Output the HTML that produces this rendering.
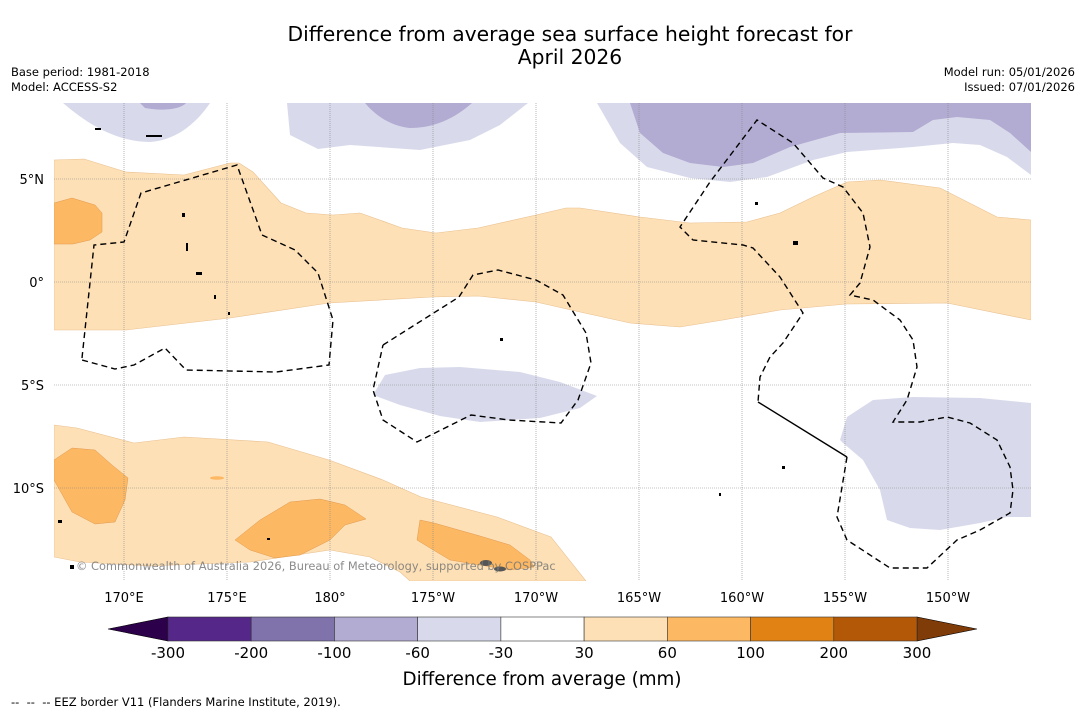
<!DOCTYPE html>
<html><head><meta charset="utf-8">
<style>
body{margin:0;background:#fff;width:1085px;height:713px;overflow:hidden;font-family:"Liberation Sans","DejaVu Sans",sans-serif;}
svg{position:absolute;left:0;top:0}
text{font-family:"DejaVu Sans","Liberation Sans",sans-serif;}
</style></head><body>
<svg id="chart" width="1085" height="713" viewBox="0 0 1085 713">
<text x="570" y="41" font-size="20.3" text-anchor="middle" fill="#000">Difference from average sea surface height forecast for</text>
<text x="570" y="64" font-size="20.3" text-anchor="middle" fill="#000">April 2026</text>
<text x="11" y="76" font-size="11.5">Base period: 1981-2018</text>
<text x="11" y="91" font-size="11.5">Model: ACCESS-S2</text>
<text x="1075" y="76" font-size="11.5" text-anchor="end">Model run: 05/01/2026</text>
<text x="1075" y="91" font-size="11.5" text-anchor="end">Issued: 07/01/2026</text>
<defs><clipPath id="mapclip"><rect x="54" y="103" width="977" height="478"/></clipPath></defs>
<g id="map" clip-path="url(#mapclip)">
<rect x="54" y="103" width="977" height="478" fill="#fff"/>
<path fill="#d8daeb" d="M63,103 C85,122 115,142 150,142 C180,140 200,118 210,103 Z"/>
<path fill="#b2abd2" d="M140,103 L186,103 C180,110 160,111 145,108 Z"/>
<path fill="#d8daeb" d="M287,103 L290,135 L318,149 L350,145 L420,150 L470,140 L500,125 L528,103 Z"/>
<path fill="#b2abd2" d="M365,103 L472,103 C455,118 435,128 410,128 C390,126 375,115 365,103 Z"/>
<path fill="#d8daeb" d="M597,103 L620,143 L647,167 L690,178 L730,182 L767,177 L813,160 L847,152 L913,147 L953,143 L980,145 L1007,157 L1031,175 L1031,103 Z"/>
<path fill="#b2abd2" d="M630,103 L640,133 L663,153 L690,163 L723,167 L753,163 L790,147 L840,133 L913,132 L933,120 L957,117 L990,120 L1010,133 L1031,152 L1031,103 Z"/>
<path fill="#d8daeb" d="M373,395 L385,375 L420,368 L460,367 L520,372 L560,382 L597,396 L580,408 L540,418 L480,422 L440,416 L400,405 Z"/>
<path fill="#d8daeb" d="M840,440 L847,417 L873,400 L913,397 L980,398 L1031,403 L1031,517 L1007,517 L980,523 L940,530 L910,528 L887,520 L880,490 L863,460 L843,443 Z"/>
<path fill="#fee0b6" stroke="#e8c090" stroke-width="0.6" d="M54,160 L84,159 L126,172 L184,175 L230,163 L239,163 L253,172 L281,203 L306,213 L333,215 L360,213 L402,228 L436,233 L478,228 L536,215 L566,208 L580,208 L640,217 L690,223 L747,222 L780,213 L813,197 L847,182 L880,180 L940,188 L997,217 L1031,220 L1031,320 L947,303 L847,304 L780,310 L723,320 L680,327 L630,323 L580,312 L536,302 L478,296 L432,297 L329,303 L230,318 L126,330 L54,330 Z"/>
<path fill="#fdb863" stroke="#e09a50" stroke-width="0.5" d="M54,203 L72,198 L95,205 L102,213 L102,232 L90,240 L73,244 L54,244 Z"/>
<path fill="#fee0b6" stroke="#e8c090" stroke-width="0.6" d="M54,425 L77,428 L134,443 L184,437 L268,442 L329,460 L383,480 L421,497 L497,517 L551,537 L586,581 L410,581 L400,572 L370,557 L330,550 L250,562 L150,566 L80,562 L54,557 Z"/>
<path fill="#fdb863" stroke="#e09a50" stroke-width="0.5" d="M54,460 L72,448 L95,450 L112,465 L128,478 L125,500 L115,522 L95,524 L72,512 L54,480 Z"/>
<path fill="#fdb863" stroke="#e09a50" stroke-width="0.5" d="M235,540 L260,520 L290,502 L320,499 L345,505 L366,519 L345,525 L330,540 L300,555 L275,558 L250,550 Z"/>
<path fill="#fdb863" stroke="#e09a50" stroke-width="0.5" d="M420,520 L434,523 L480,536 L510,545 L530,560 L534,567 L510,570 L480,565 L450,560 L430,548 L417,540 Z"/>
<ellipse cx="217" cy="478" rx="7" ry="1.8" fill="#fdb863"/>
<g id="grid"></g>
<g fill="none" stroke="#000" stroke-width="1.4" stroke-dasharray="6,4">
<path d="M82,358 L94,245 L124,242 L141,193 L237,165 L262,235 L295,250 L318,273 L333,320 L329,365 L276,372 L186,370 L165,348 L134,365 L115,369 L82,360"/>
<path d="M383,345 L459,297 L473,275 L498,270 L536,280 L563,295 L586,333 L591,363 L578,400 L561,423 L509,420 L471,415 L417,442 L383,420 L373,390 L383,345"/>
<path d="M847,457 L837,517 L847,540 L890,568 L927,568 L957,540 L980,530 L1010,513 L1013,490 L1010,467 L997,440 L970,423 L947,417 L920,422 L893,422 L907,400 L917,367 L913,340 L900,320 L873,300 L850,295 L860,283 L870,247 L863,213 L843,187 L823,178 L793,143 L757,120 L710,182 L680,227 L693,240 L743,245 L753,248 L780,277 L803,313 L783,343 L770,357 L760,377 L758,402"/>
</g>
<path d="M758,402 L847,457" stroke="#000" stroke-width="1.4" fill="none"/>
<g fill="#000">
<rect x="182" y="213" width="3" height="4"/><rect x="186" y="243" width="2" height="8"/><rect x="196" y="272" width="6" height="3"/><rect x="214" y="295" width="2" height="4"/><rect x="228" y="312" width="2" height="3"/><rect x="500" y="338" width="3" height="3"/><rect x="755" y="202" width="3" height="3"/><rect x="793" y="241" width="5" height="4"/><rect x="58" y="520" width="4" height="3"/><rect x="70" y="565" width="4" height="4"/><rect x="267" y="538" width="3" height="2"/><rect x="146" y="135" width="16" height="2"/><rect x="95" y="128" width="6" height="2"/><rect x="719" y="493" width="2" height="3"/><rect x="782" y="466" width="3" height="3"/>
<ellipse cx="486" cy="563" rx="6" ry="3" fill="#555"/><ellipse cx="500" cy="569" rx="6" ry="2.5" fill="#555"/>
</g>
<text x="76" y="570" font-size="11.4" fill="#777" fill-opacity="0.85">© Commonwealth of Australia 2026, Bureau of Meteorology, supported by COSPPac</text>
</g>
<g id="ylabels"></g>
<g id="xlabels"></g>
<g id="colorbar"></g>
<text x="542" y="685" font-size="18.3" text-anchor="middle">Difference from average (mm)</text>
<text x="11" y="706" font-size="11.5" xml:space="preserve">--  --  -- EEZ border V11 (Flanders Marine Institute, 2019).</text>
</svg>
<script>
const lonTicks=[170,175,180,185,190,195,200,205,210];
const lonLabels=["170°E","175°E","180°","175°W","170°W","165°W","160°W","155°W","150°W"];
const latTicks=[5,0,-5,-10];
const latLabels=["5°N","0°","5°S","10°S"];
const cbBounds=[-300,-200,-100,-60,-30,30,60,100,200,300];
const cbLabels=["-300","-200","-100","-60","-30","30","60","100","200","300"];
const cbColors=["#542788","#8073ac","#b2abd2","#d8daeb","#ffffff","#fee0b6","#fdb863","#e08214","#b35806"];
const cbExtendColors=["#2d004b","#7f3b08"];
const NS="http://www.w3.org/2000/svg";
function xLon(l){return 124+(l-170)*20.6;}
function yLat(l){return 282-l*20.6;}
function mk(tag,attrs,parent){const e=document.createElementNS(NS,tag);for(const k in attrs)e.setAttribute(k,attrs[k]);parent.appendChild(e);return e;}
const grid=document.getElementById('grid');
lonTicks.forEach((l,i)=>{
  const ln=mk('line',{x1:xLon(l),x2:xLon(l),y1:103,y2:581,stroke:'#888','stroke-width':0.6,'stroke-dasharray':'1,1'},grid);
  
  
  const t=mk('text',{x:xLon(l),y:602,'font-size':13,'text-anchor':'middle'},document.getElementById('xlabels'));
  t.textContent=lonLabels[i];
  
  
});
latTicks.forEach((l,i)=>{
  const ln=mk('line',{x1:54,x2:1031,y1:yLat(l),y2:yLat(l),stroke:'#888','stroke-width':0.6,'stroke-dasharray':'1,1'},grid);
  
  
  const t=mk('text',{x:44,y:yLat(l)+5,'font-size':13,'text-anchor':'end'},document.getElementById('ylabels'));
  t.textContent=latLabels[i];
  
  
});
const cb=document.getElementById('colorbar');
const cbX0=168,cbX1=917,cbY=617,cbH=24,n=cbBounds.length-1,w=(cbX1-cbX0)/n;
function xCb(i){return cbX0+i*w;}
const lt=mk('polygon',{points:`${xCb(0)},${cbY} ${xCb(0)},${cbY+cbH} 108,${cbY+cbH/2}`,fill:cbExtendColors[0],stroke:'#000','stroke-width':0.6},cb);


const rt=mk('polygon',{points:`${xCb(n)},${cbY} ${xCb(n)},${cbY+cbH} 977,${cbY+cbH/2}`,fill:cbExtendColors[1],stroke:'#000','stroke-width':0.6},cb);


cbColors.forEach((c,i)=>{
  const r=mk('rect',{x:xCb(i),y:cbY,width:w,height:cbH,fill:c,stroke:'#333','stroke-width':0.6},cb);
  
  
});
cbLabels.forEach((s,i)=>{
  const t=mk('text',{x:xCb(i),y:658,'font-size':15,'text-anchor':'middle'},cb);
  t.textContent=s;
  
  
});
</script>
</body></html>
